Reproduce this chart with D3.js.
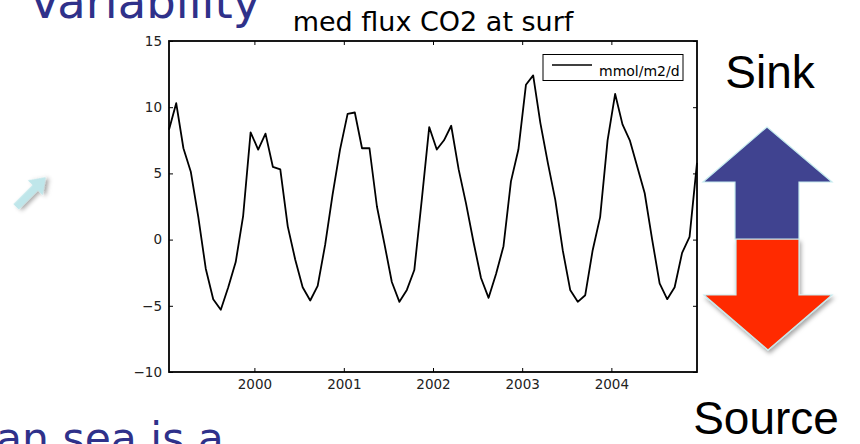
<!DOCTYPE html>
<html>
<head>
<meta charset="utf-8">
<script src="https://cdn.jsdelivr.net/npm/d3@7/dist/d3.min.js"></script>
<style>
  html, body { margin: 0; padding: 0; background: #fff; }
  svg { display: block; }
</style>
</head>
<body>
<svg id="chart" width="860" height="444"></svg>
<script>
// Monthly surface CO2 flux, Mediterranean median (mmol/m2/d), Jan 1999 – Dec 2004
const startMonth = "1999-01";
const fluxValues = [
  8.3, 10.3, 6.9, 5.1, 1.7, -2.2, -4.5, -5.3, -3.6, -1.7, 1.8, 8.1,
  6.8, 8.0, 5.5, 5.3, 1.0, -1.5, -3.6, -4.6, -3.5, -0.4, 3.4, 6.8,
  9.5, 9.6, 6.9, 6.9, 2.5, -0.3, -3.2, -4.7, -3.8, -2.3, 3.0, 8.5,
  6.8, 7.5, 8.6, 5.3, 2.7, -0.2, -2.9, -4.4, -2.6, -0.5, 4.4, 6.8,
  11.7, 12.4, 8.8, 5.8, 3.0, -0.8, -3.8, -4.7, -4.2, -0.8, 1.7, 7.5,
  11.0, 8.7, 7.5, 5.5, 3.5, 0.0, -3.3, -4.5, -3.6, -1.0, 0.2, 5.8
];
const yTickValues = [-10, -5, 0, 5, 10, 15];
const xTickYears = [2000, 2001, 2002, 2003, 2004];
const chartTitle = "med flux CO2 at surf";
const seriesName = "mmol/m2/d";

const svg = d3.select("#chart");
const plot = { left: 169, top: 41, right: 697, bottom: 372 };
const tickFont = "DejaVu Sans, sans-serif";

// Drop shadow used by the decorative arrows
const defs = svg.append("defs");
const shadow = defs.append("filter").attr("id", "shadow")
  .attr("x", "-30%").attr("y", "-30%").attr("width", "160%").attr("height", "160%");
shadow.append("feDropShadow").attr("dx", 1.5).attr("dy", 3).attr("stdDeviation", 2.2)
  .attr("flood-color", "#000").attr("flood-opacity", 0.35);

// Monthly dates, placed mid-month
const t0 = d3.timeParse("%Y-%m")(startMonth);
const series = fluxValues.map((v, i) => {
  const m = d3.timeMonth.offset(t0, i);
  const mid = new Date((+m + +d3.timeMonth.offset(m, 1)) / 2);
  return { date: mid, value: v };
});

const x = d3.scaleTime()
  .domain(d3.extent(series, d => d.date))
  .range([plot.left, plot.right]);
const y = d3.scaleLinear()
  .domain([-10, 15])
  .range([plot.bottom, plot.top]);
const yearTicks = xTickYears.map(yr => new Date(yr, 0, 1));

// Slide text around the chart
svg.append("text")
  .attr("x", 29).attr("y", 18)
  .attr("font-family", tickFont).attr("font-size", 46.5)
  .attr("fill", "#2f318a")
  .text("Variability");
svg.append("text")
  .attr("x", -4).attr("y", 453)
  .attr("font-family", tickFont).attr("font-size", 42.5)
  .attr("fill", "#2f318a")
  .text("an sea is a");

// Small light arrow on the left
const small = svg.append("g")
  .attr("transform", "translate(31,192) rotate(-45)")
  .attr("filter", "url(#shadow)");
small.append("path")
  .attr("d", "M-21,-3.8 L6,-3.8 L6,-10.5 L21,0 L6,10.5 L6,3.8 L-21,3.8 Z")
  .attr("fill", "#bfe6ea");

// Axis frame
svg.append("rect")
  .attr("x", plot.left).attr("y", plot.top)
  .attr("width", plot.right - plot.left).attr("height", plot.bottom - plot.top)
  .attr("fill", "#fff").attr("stroke", "#000").attr("stroke-width", 1.8);

function styleAxis(g, showLabels) {
  g.select(".domain").remove();
  g.selectAll(".tick line").attr("stroke", "#000").attr("stroke-width", 1);
  g.selectAll(".tick text")
    .attr("font-family", tickFont).attr("font-size", 13.5).attr("fill", "#222")
    .style("display", showLabels ? null : "none");
}

svg.append("g")
  .attr("transform", `translate(0,${plot.bottom})`)
  .call(d3.axisBottom(x).tickValues(yearTicks).tickFormat(d3.timeFormat("%Y"))
    .tickSize(-4).tickPadding(7))
  .call(g => styleAxis(g, true));
svg.append("g")
  .attr("transform", `translate(0,${plot.top})`)
  .call(d3.axisTop(x).tickValues(yearTicks).tickSize(-4))
  .call(g => styleAxis(g, false));
svg.append("g")
  .attr("transform", `translate(${plot.left},0)`)
  .call(d3.axisLeft(y).tickValues(yTickValues).tickFormat(d3.format("d"))
    .tickSize(-4).tickPadding(7))
  .call(g => styleAxis(g, true));
svg.append("g")
  .attr("transform", `translate(${plot.right},0)`)
  .call(d3.axisRight(y).tickValues(yTickValues).tickSize(-4))
  .call(g => styleAxis(g, false));

// Flux line
svg.append("path")
  .datum(series)
  .attr("fill", "none")
  .attr("stroke", "#000")
  .attr("stroke-width", 1.8)
  .attr("stroke-linejoin", "round")
  .attr("d", d3.line().x(d => x(d.date)).y(d => y(d.value)));

// Title
svg.append("text")
  .attr("x", (plot.left + plot.right) / 2).attr("y", 31)
  .attr("text-anchor", "middle")
  .attr("font-family", tickFont).attr("font-size", 27)
  .attr("fill", "#000")
  .text(chartTitle);

// Legend
const legend = svg.append("g");
legend.append("rect")
  .attr("x", 543).attr("y", 54.5).attr("width", 140).attr("height", 26)
  .attr("fill", "#fff").attr("stroke", "#000").attr("stroke-width", 1);
legend.append("line")
  .attr("x1", 552).attr("x2", 592).attr("y1", 65).attr("y2", 65)
  .attr("stroke", "#000").attr("stroke-width", 1.6);
legend.append("text")
  .attr("x", 599).attr("y", 76)
  .attr("font-family", tickFont).attr("font-size", 14).attr("fill", "#000")
  .text(seriesName);

// Sink / Source arrows
const arrowFont = "Liberation Sans, Arial, sans-serif";
svg.append("text")
  .attr("x", 770).attr("y", 88).attr("text-anchor", "middle")
  .attr("font-family", arrowFont).attr("font-size", 46).attr("fill", "#000")
  .text("Sink");
svg.append("text")
  .attr("x", 766).attr("y", 434).attr("text-anchor", "middle")
  .attr("font-family", arrowFont).attr("font-size", 46).attr("fill", "#000")
  .text("Source");

svg.append("path")
  .attr("d", "M736,239 L799,239 L799,295 L832,295 L768,350 L704,295 L736,295 Z")
  .attr("fill", "#ff2b00").attr("stroke", "#c6ecef").attr("stroke-width", 1.2)
  .attr("filter", "url(#shadow)");
svg.append("path")
  .attr("d", "M735,239 L735,182 L703,182 L767,127 L832,182 L799,182 L799,239 Z")
  .attr("fill", "#404390").attr("stroke", "#c6ecef").attr("stroke-width", 1.2);
</script>
</body>
</html>
